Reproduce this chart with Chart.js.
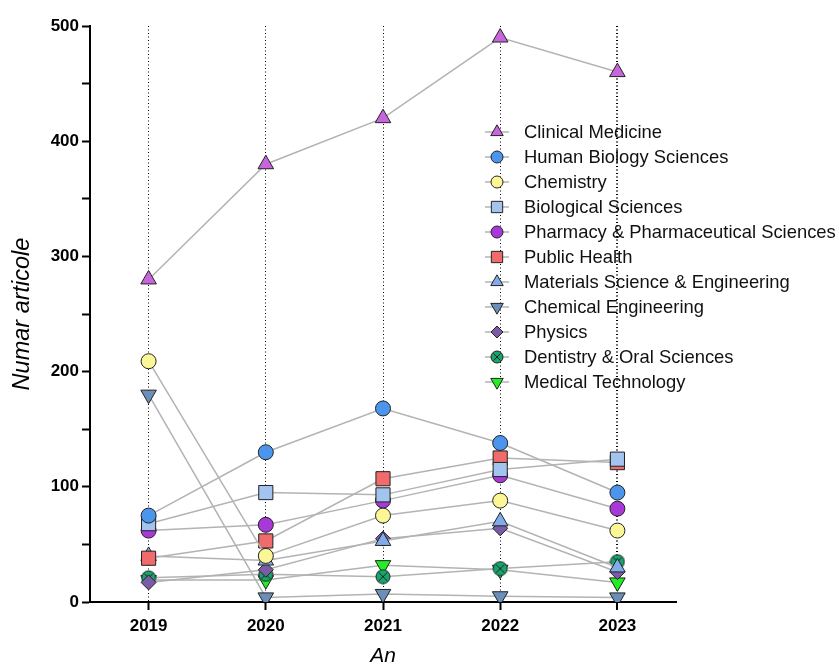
<!DOCTYPE html>
<html>
<head>
<meta charset="utf-8">
<title>Numar articole pe an</title>
<script src="https://cdn.jsdelivr.net/npm/chart.js@4.4.1/dist/chart.umd.min.js"></script>
<style>
  body { margin: 0; background: #fff; }
  #wrap { width: 839px; height: 669px; }
</style>
</head>
<body>
<div id="wrap"><canvas id="lineChart" width="839" height="669"></canvas></div>
<script>
// data
const years = ['2019', '2020', '2021', '2022', '2023'];
const clinicalMedicine = [280, 380, 420, 490, 460];
const humanBiology = [75, 130, 168, 138, 95];
const chemistry = [209, 40, 75, 88, 62];
const biologicalSciences = [68, 95, 93, 115, 124];
const pharmacy = [62, 67, 88, 110, 81];
const publicHealth = [38, 53, 107, 125, 121];
const materialsScience = [40, 36, 53, 70, 30];
const chemicalEngineering = [180, 4, 7, 5, 4];
const physics = [17, 28, 55, 64, 26];
const dentistry = [21, 24, 22, 29, 35];
const medicalTechnology = [19, 19, 32, 28, 17];
const yTicks = [0, 100, 200, 300, 400, 500];

// circle with a cross inside (dentistry marker)
function crossCircle(r, fill) {
  const c = document.createElement('canvas');
  const s = Math.ceil(r * 2 + 2);
  c.width = s;
  c.height = s;
  const g = c.getContext('2d');
  const m = s / 2;
  g.beginPath();
  g.arc(m, m, r, 0, Math.PI * 2);
  g.fillStyle = fill;
  g.fill();
  g.lineWidth = 1;
  g.strokeStyle = '#222';
  g.stroke();
  const d = r * 0.6;
  g.beginPath();
  g.moveTo(m - d, m - d);
  g.lineTo(m + d, m + d);
  g.moveTo(m + d, m - d);
  g.lineTo(m - d, m + d);
  g.stroke();
  return c;
}

const dentChart = crossCircle(7, '#16a56c');
const dentLegend = crossCircle(6, '#16a56c');

function series(label, data, color, style, radius, rotation, legendStyle) {
  return {
    label: label,
    data: data,
    borderColor: '#b3b3b3',
    borderWidth: 1.5,
    backgroundColor: color,
    pointBackgroundColor: color,
    pointBorderColor: '#222',
    pointBorderWidth: 1,
    pointStyle: style,
    pointRadius: radius,
    pointRotation: rotation || 0,
    tension: 0,
    legendStyle: legendStyle || style,
  };
}

const lineData = {
  labels: years,
  datasets: [
    series('Clinical Medicine', clinicalMedicine, '#c766dc', 'triangle', 9),
    series('Human Biology Sciences', humanBiology, '#4b96ec', 'circle', 7.5),
    series('Chemistry', chemistry, '#fbf796', 'circle', 7.5),
    series('Biological Sciences', biologicalSciences, '#a2c4ef', 'rect', 10),
    series('Pharmacy & Pharmaceutical Sciences', pharmacy, '#a838d8', 'circle', 7.5),
    series('Public Health', publicHealth, '#f06b6b', 'rect', 10),
    series('Materials Science & Engineering', materialsScience, '#80acea', 'triangle', 9),
    series('Chemical Engineering', chemicalEngineering, '#6c8fb9', 'triangle', 9, 180),
    series('Physics', physics, '#7a5ba6', 'rectRot', 7.5),
    series('Dentistry & Oral Sciences', dentistry, '#16a56c', dentChart, 7.5, 0, dentLegend),
    series('Medical Technology', medicalTechnology, '#22ee22', 'triangle', 9, 180),
  ],
};

// legend drawn inside the plot, like the original
const insideLegend = {
  id: 'insideLegend',
  afterDraw(chart) {
    const ctx = chart.ctx;
    const x0 = 497;
    let y = 132;
    ctx.save();
    chart.data.datasets.forEach((ds) => {
      ctx.beginPath();
      ctx.setLineDash([]);
      ctx.strokeStyle = '#b3b3b3';
      ctx.lineWidth = 1.5;
      ctx.moveTo(x0 - 12, y);
      ctx.lineTo(x0 + 12, y);
      ctx.stroke();
      ctx.fillStyle = ds.pointBackgroundColor;
      ctx.strokeStyle = '#222';
      ctx.lineWidth = 1;
      Chart.helpers.drawPoint(ctx, {
        pointStyle: ds.legendStyle,
        rotation: ds.pointRotation,
        radius: ds.pointRadius * 0.8,
        borderWidth: 1,
      }, x0, y);
      ctx.fillStyle = '#111';
      ctx.font = '18.4px "Liberation Sans", Arial, sans-serif';
      ctx.textBaseline = 'middle';
      ctx.textAlign = 'left';
      ctx.fillText(ds.label, 524, y + 1);
      y += 25;
    });
    ctx.restore();
  },
};

const lineConfig = {
  type: 'line',
  data: lineData,
  options: {
    responsive: false,
    animation: false,
    events: [],
    layout: {
      padding: { top: 26, right: 163, bottom: 0, left: 0 },
    },
    plugins: {
      legend: { display: false },
      tooltip: { enabled: false },
    },
    scales: {
      x: {
        type: 'category',
        offset: true,
        afterFit: (scale) => {
          scale.height = 67;
        },
        grid: {
          color: '#000',
          lineWidth: (c) => (c.index === 4 ? 2 : 1),
          tickColor: '#000',
          tickWidth: 2,
          tickLength: 8,
          tickBorderDash: [],
        },
        border: { color: '#000', width: 2, dash: [1, 2.5] },
        ticks: {
          color: '#000',
          padding: 6,
          maxRotation: 0,
          font: { family: '"Liberation Sans", Arial, sans-serif', size: 17, weight: 'bold' },
        },
        title: {
          display: true,
          text: 'An',
          color: '#000',
          padding: { top: 0, bottom: 0 },
          font: { family: '"Liberation Sans", Arial, sans-serif', size: 21, style: 'italic' },
        },
      },
      y: {
        min: 0,
        max: 500,
        afterFit: (scale) => {
          scale.width = 90;
        },
        grid: {
          drawOnChartArea: false,
          tickColor: '#000',
          tickWidth: 2,
          tickLength: 8,
        },
        border: { color: '#000', width: 2 },
        ticks: {
          stepSize: 50,
          color: '#000',
          padding: 3,
          callback: (v) => (yTicks.includes(v) ? v : ''),
          font: { family: '"Liberation Sans", Arial, sans-serif', size: 17, weight: 'bold' },
        },
        title: {
          display: true,
          text: 'Numar articole',
          color: '#000',
          padding: { top: 8, bottom: 0 },
          font: { family: '"Liberation Sans", Arial, sans-serif', size: 23.5, style: 'italic' },
        },
      },
    },
  },
  plugins: [insideLegend],
};

const lineChart = new Chart(document.getElementById('lineChart'), lineConfig);
</script>
</body>
</html>
